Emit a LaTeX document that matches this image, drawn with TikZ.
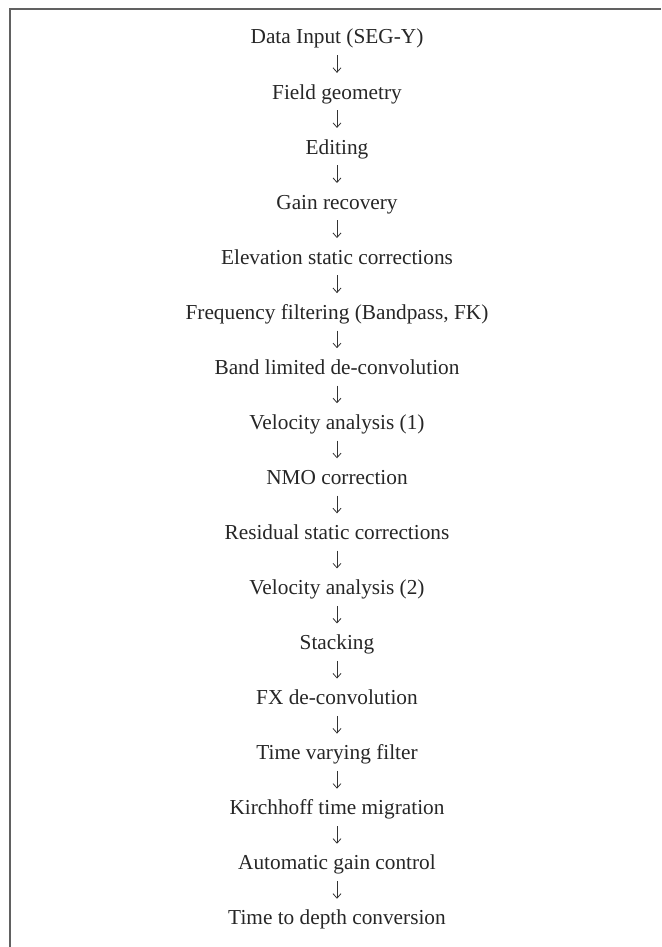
\documentclass[tikz,border=0pt]{standalone}
\usepackage{fontspec}
\setmainfont{Liberation Serif}
\usetikzlibrary{arrows.meta}
\begin{document}
\begin{tikzpicture}[x=1pt,y=1pt,
  stepnode/.style={inner sep=0pt, text height=14pt, text depth=5pt, anchor=base,
    font=\fontsize{21.3}{25}\selectfont, text=black!85},
  flow/.style={line width=0.8pt, draw=black!80, shorten <=6pt, shorten >=12pt,
    -{Straight Barb[length=4.5pt,width=8pt,line width=0.8pt]}},
  frameline/.style={line width=1.6pt, draw=black!62}]
\useasboundingbox (0,0) rectangle (661,-947);
\draw[frameline] (661,-9) -- (10,-9) coordinate (tl) -- (10,-947) coordinate (bl);
\def\cx{337}
\foreach \t [count=\i] in {
  Data Input (SEG-Y),
  Field geometry,
  Editing,
  Gain recovery,
  Elevation static corrections,
  {Frequency filtering (Bandpass, FK)},
  Band limited de-convolution,
  Velocity analysis (1),
  NMO correction,
  Residual static corrections,
  Velocity analysis (2),
  Stacking,
  FX de-convolution,
  Time varying filter,
  Kirchhoff time migration,
  Automatic gain control,
  Time to depth conversion}
{
  \pgfmathsetmacro\yy{-44-(\i-1)*55.06}
  \node[stepnode] (n\i) at (\cx,\yy) {\t};
}
\foreach \i [evaluate=\i as \j using int(\i+1)] in {1,...,16}
  \draw[flow] (n\i.south) -- (n\j.north);
\end{tikzpicture}
\end{document}
